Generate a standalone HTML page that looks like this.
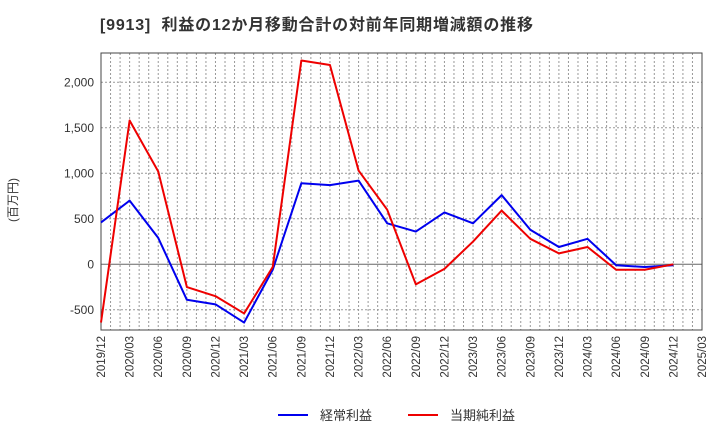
<!DOCTYPE html>
<html><head><meta charset="utf-8"><style>
body{margin:0;background:#fff;font-family:"Liberation Sans","Noto Sans CJK JP",sans-serif}
</style></head><body>
<svg id="chart" width="720" height="440" xmlns="http://www.w3.org/2000/svg" style="font-family:'Liberation Sans','Noto Sans CJK JP',sans-serif">
<text x="100" y="30" font-size="16" font-weight="bold" fill="#333" letter-spacing="0.8" xml:space="preserve">[9913]  利益の12か月移動合計の対前年同期増減額の推移</text>
<text transform="translate(17,200) rotate(-90)" font-size="12" fill="#333" text-anchor="middle">(百万円)</text>
<g id="grid"></g><g id="axes"></g><g id="series"></g>
<g>
<line x1="278" y1="415" x2="308" y2="415" stroke="#0000ee" stroke-width="2"/>
<text x="320" y="420" font-size="13" fill="#333">経常利益</text>
<line x1="408" y1="415" x2="438" y2="415" stroke="#ee0000" stroke-width="2"/>
<text x="450" y="420" font-size="13" fill="#333">当期純利益</text>
</g>
</svg>
<script>
const categories=["2019/12","2020/03","2020/06","2020/09","2020/12","2021/03","2021/06","2021/09","2021/12","2022/03","2022/06","2022/09","2022/12","2023/03","2023/06","2023/09","2023/12","2024/03","2024/06","2024/09","2024/12","2025/03"];
const ordinary=[460,700,290,-390,-440,-640,-60,890,870,920,450,360,570,450,760,380,190,280,-10,-30,-10];
const net=[-640,1580,1020,-250,-350,-540,-30,2240,2190,1030,600,-220,-50,250,590,280,120,190,-60,-60,0];
const yTicks=[-500,0,500,1000,1500,2000];
const yTickLabels=["-500","0","500","1,000","1,500","2,000"];
const L=101,R=702,T=53,B=330;
const ns="http://www.w3.org/2000/svg";
const xq=i=>L+i*(R-L)/(categories.length-1);
const y=v=>264.3-v*(45.5/500);
function mk(tag,attrs,parent){const e=document.createElementNS(ns,tag);for(const k in attrs)e.setAttribute(k,attrs[k]);parent.appendChild(e);return e;}
const grid=document.getElementById('grid'),axes=document.getElementById('axes'),series=document.getElementById('series');
const months=(categories.length-1)*3;
for(let m=1;m<months;m++){const x=L+m*(R-L)/months;const l=mk('line',{x1:x,x2:x,y1:T,y2:B,stroke:'#999','stroke-dasharray':'2,2','stroke-width':1},grid);

}
yTicks.forEach((v,i)=>{const yy=y(v);const l=mk('line',{x1:L,x2:R,y1:yy,y2:yy,stroke:v===0?'#666':'#999','stroke-dasharray':v===0?'':'2,2','stroke-width':1},grid);


const t=mk('text',{x:L-7,y:yy+4,'text-anchor':'end','font-size':12,fill:'#333'},axes);t.textContent=yTickLabels[i];

});
const fr=mk('rect',{x:L,y:T,width:R-L,height:B-T,fill:'none',stroke:'#444','stroke-width':1},axes);


categories.forEach((c,i)=>{const x=xq(i);const t=mk('text',{transform:`translate(${x+4},${B+6}) rotate(-90)`,'text-anchor':'end','font-size':11.5,fill:'#333'},axes);t.textContent=c;

});
function line(data,color,name){const p=mk('polyline',{points:data.map((v,i)=>xq(i)+','+y(v)).join(' '),fill:'none',stroke:color,'stroke-width':2,'stroke-linejoin':'round'},series);

}
line(ordinary,'#0000ee','ordinary-profit-line');
line(net,'#ee0000','net-profit-line');
</script>
</body></html>
